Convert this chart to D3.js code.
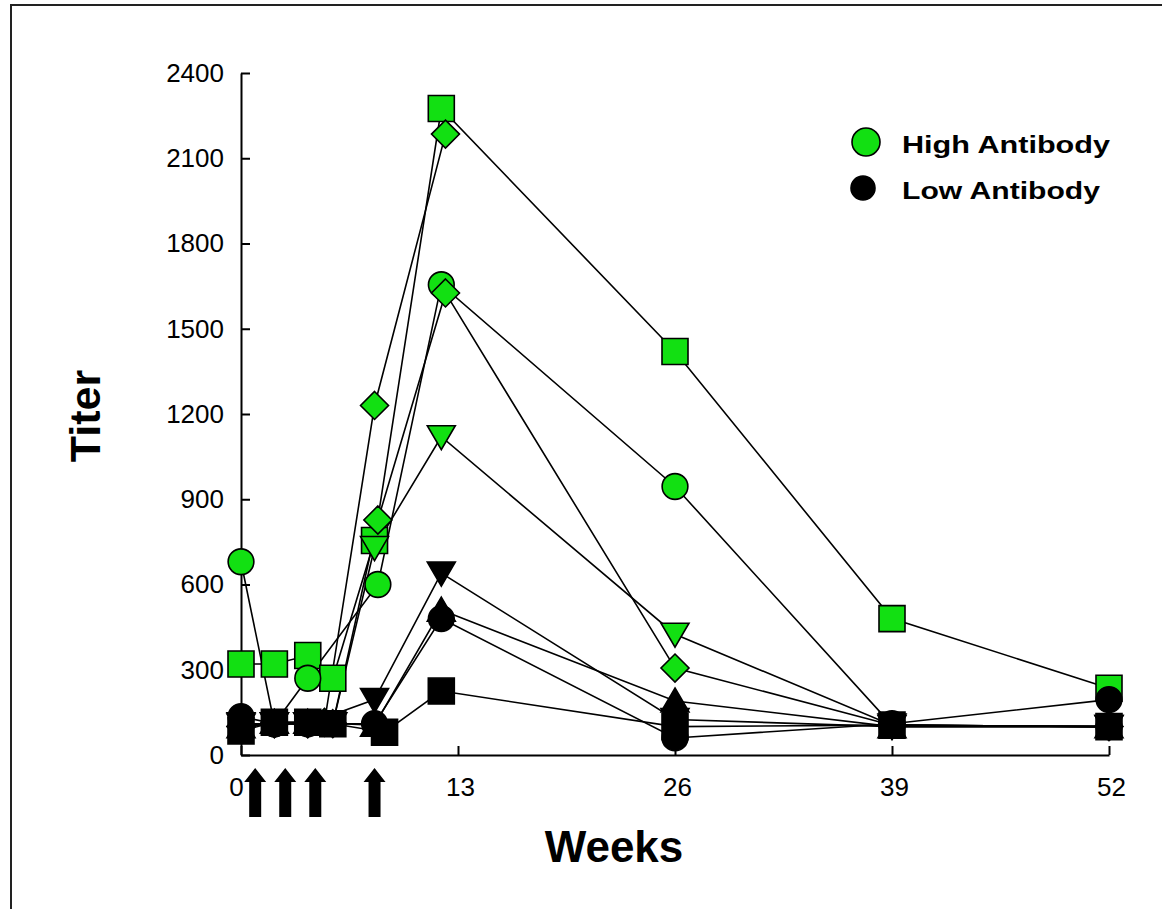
<!DOCTYPE html>
<html>
<head>
<meta charset="utf-8">
<script src="https://cdn.jsdelivr.net/npm/d3@7"></script>
<style>
  html, body { margin: 0; padding: 0; background: #fff; }
  svg { display: block; }
</style>
</head>
<body>
<svg id="chart" width="1162" height="909"></svg>
<script>
// ---------------- DATA ----------------
const xTickValues = [0, 13, 26, 39, 52];
const yTickValues = [0, 300, 600, 900, 1200, 1500, 1800, 2100, 2400];
const immunizationWeeks = [0.85, 2.65, 4.45, 8];

const legendLabels = ["High Antibody", "Low Antibody"];

// High antibody subjects (green)
const hSquareWeeks   = [0, 2, 4, 5.5, 8, 12, 26, 39, 52];
const hSquareValues  = [320, 320, 350, 270, 755, 2275, 1420, 480, 235];
const hCircleWeeks   = [0, 2, 4, 8.2, 12, 26, 39, 52];
const hCircleValues  = [680, 110, 270, 600, 1655, 945, 105, 100];
const hTriWeeks      = [0, 2, 4, 5.5, 8, 12, 26, 39, 52];
const hTriValues     = [105, 110, 110, 110, 730, 1120, 425, 105, 100];
const hDiamAWeeks    = [0, 2, 4, 5, 8, 12.25];
const hDiamAValues   = [100, 110, 110, 115, 1230, 2185];
const hDiamBWeeks    = [0, 2, 4, 5.5, 8.2, 12.25, 26, 39, 52];
const hDiamBValues   = [100, 110, 110, 110, 827, 1626, 306, 105, 100];

// Low antibody subjects (black)
const lSquareWeeks   = [0, 2, 4, 5.5, 8.6, 12, 26, 39, 52];
const lSquareValues  = [85, 115, 115, 110, 80, 225, 100, 105, 100];
const lCircleWeeks   = [0, 2, 4, 8, 12, 26, 39, 52];
const lCircleValues  = [135, 110, 110, 110, 480, 60, 110, 195];
const lTriDownWeeks  = [0, 2, 4, 8, 12, 26, 39, 52];
const lTriDownValues = [110, 110, 110, 195, 640, 125, 100, 100];
const lTriUpWeeks    = [0, 2, 4, 8, 12, 26, 39, 52];
const lTriUpValues   = [100, 115, 115, 105, 510, 190, 100, 100];

const GREEN = "#12e012";
const series = [
  {weeks: hSquareWeeks,  values: hSquareValues,  shape: "square",  fill: GREEN},
  {weeks: hCircleWeeks,  values: hCircleValues,  shape: "circle",  fill: GREEN},
  {weeks: hTriWeeks,     values: hTriValues,     shape: "triDown", fill: GREEN},
  {weeks: hDiamAWeeks,   values: hDiamAValues,   shape: "diamond", fill: GREEN},
  {weeks: hDiamBWeeks,   values: hDiamBValues,   shape: "diamond", fill: GREEN},
  {weeks: lSquareWeeks,  values: lSquareValues,  shape: "square",  fill: "#000"},
  {weeks: lCircleWeeks,  values: lCircleValues,  shape: "circle",  fill: "#000"},
  {weeks: lTriDownWeeks, values: lTriDownValues, shape: "triDown", fill: "#000"},
  {weeks: lTriUpWeeks,   values: lTriUpValues,   shape: "triUp",   fill: "#000"}
];

// ---------------- CHART ----------------
const svg = d3.select("#chart");

// outer frame
svg.append("rect")
  .attr("x", 11).attr("y", 5).attr("width", 1200).attr("height", 950)
  .attr("fill", "none").attr("stroke", "#222").attr("stroke-width", 2);

const x = d3.scaleLinear().domain([0, 52]).range([241, 1109]);
const y = d3.scaleLinear().domain([0, 2400]).range([755, 73]);

// y axis
const yAxis = d3.axisLeft(y).tickValues(yTickValues)
  .tickSizeInner(-9).tickSizeOuter(0).tickPadding(17)
  .tickFormat(d3.format("d"));
const gy = svg.append("g").attr("transform", "translate(241,0)").call(yAxis);
gy.select(".domain").attr("stroke", "#000").attr("stroke-width", 2);
gy.selectAll(".tick line").attr("stroke", "#000").attr("stroke-width", 2);
gy.selectAll(".tick text")
  .attr("font-family", "Liberation Sans, Arial, sans-serif")
  .attr("font-size", 26).attr("fill", "#000");

// x axis
const xAxis = d3.axisBottom(x).tickValues(xTickValues)
  .tickSizeInner(-9).tickSizeOuter(0).tickPadding(23)
  .tickFormat(d3.format("d"));
const gx = svg.append("g").attr("transform", "translate(0,755)").call(xAxis);
gx.select(".domain").attr("stroke", "#000").attr("stroke-width", 2);
gx.selectAll(".tick line").attr("stroke", "#000").attr("stroke-width", 2);
gx.selectAll(".tick text")
  .attr("font-family", "Liberation Sans, Arial, sans-serif")
  .attr("font-size", 26).attr("fill", "#000")
  .attr("dx", d => d === 0 ? -5 : 2);

// axis titles
svg.append("text")
  .attr("x", 614).attr("y", 862)
  .attr("text-anchor", "middle")
  .attr("font-family", "Liberation Sans, Arial, sans-serif")
  .attr("font-weight", "bold").attr("font-size", 44)
  .text("Weeks");

svg.append("text")
  .attr("transform", "translate(100,416) rotate(-90)")
  .attr("text-anchor", "middle")
  .attr("font-family", "Liberation Sans, Arial, sans-serif")
  .attr("font-weight", "bold").attr("font-size", 43)
  .text("Titer");

// immunization arrows
svg.append("g").selectAll("path")
  .data(immunizationWeeks).join("path")
  .attr("d", w => {
    const cx = x(w);
    return `M${cx},768 L${cx + 11},782 L${cx + 6},782 L${cx + 6},817 L${cx - 6},817 L${cx - 6},782 L${cx - 11},782 Z`;
  })
  .attr("fill", "#000");

// connecting lines
const line = d3.line().x(d => x(d[0])).y(d => y(d[1]));
svg.append("g").selectAll("path")
  .data(series).join("path")
  .attr("d", s => line(s.weeks.map((w, i) => [w, s.values[i]])))
  .attr("fill", "none").attr("stroke", "#000").attr("stroke-width", 1.6);

// marker shapes
function shapePath(shape) {
  switch (shape) {
    case "square":  return "M-13,-13H13V13H-13Z";
    case "circle":  return d3.symbol(d3.symbolCircle, 520)();
    case "diamond": return "M0,-14L14,0L0,14L-14,0Z";
    case "triDown": return "M-14,-11L14,-11L0,13Z";
    case "triUp":   return "M0,-13L14,11L-14,11Z";
  }
}

const points = [];
series.forEach(s => s.weeks.forEach((w, i) =>
  points.push({w: w, v: s.values[i], shape: s.shape, fill: s.fill})));

svg.append("g").selectAll("path")
  .data(points).join("path")
  .attr("transform", d => `translate(${x(d.w)},${y(d.v)})`)
  .attr("d", d => shapePath(d.shape))
  .attr("fill", d => d.fill)
  .attr("stroke", "#000").attr("stroke-width", 1.6);

// legend
const legendY = [142, 188];
const legendFill = [GREEN, "#000"];
const legendR = [14, 12];
const legendW = [208, 198];
const lg = svg.append("g");
legendLabels.forEach((lab, i) => {
  lg.append("circle")
    .attr("cx", 866 - i * 3).attr("cy", legendY[i]).attr("r", legendR[i])
    .attr("fill", legendFill[i]).attr("stroke", "#000").attr("stroke-width", 1.6);
  lg.append("text")
    .attr("x", 902).attr("y", legendY[i] + 11)
    .attr("font-family", "Liberation Sans, Arial, sans-serif")
    .attr("font-weight", "bold").attr("font-size", 24)
    .attr("textLength", legendW[i]).attr("lengthAdjust", "spacingAndGlyphs")
    .text(lab);
});
</script>
</body>
</html>
